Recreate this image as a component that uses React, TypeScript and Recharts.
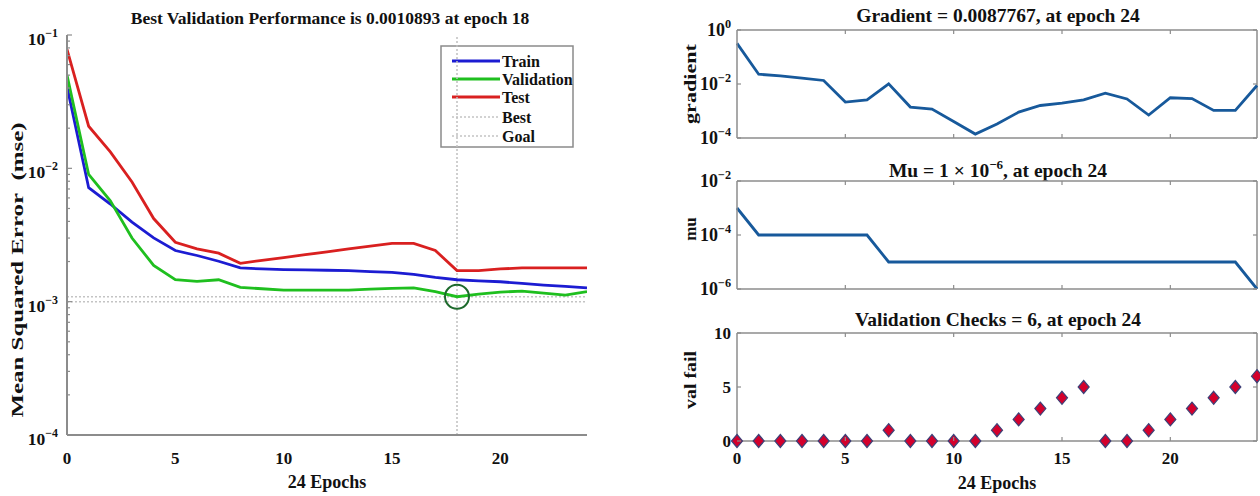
import React from 'react';
import {
  LineChart,
  Line,
  XAxis,
  YAxis,
  ReferenceLine,
  ReferenceDot,
  ComposedChart,
  Scatter,
} from 'recharts';

// ---------- data ----------
const epochs = [0, 1, 2, 3, 4, 5, 6, 7, 8, 9, 10, 11, 12, 13, 14, 15, 16, 17, 18, 19, 20, 21, 22, 23, 24];
const trainMse = [0.041, 0.00716, 0.0054, 0.00395, 0.00301, 0.00242, 0.00222, 0.00201, 0.00179, 0.00176, 0.00174, 0.00173, 0.00172, 0.00171, 0.00168, 0.00166, 0.0016, 0.00152, 0.00146, 0.00143, 0.00141, 0.00137, 0.00133, 0.0013, 0.00127];
const validationMse = [0.05, 0.009, 0.0057, 0.003, 0.00187, 0.00146, 0.00142, 0.00146, 0.00128, 0.00125, 0.00122, 0.00122, 0.00122, 0.00122, 0.00124, 0.00126, 0.00127, 0.00119, 0.0010893, 0.00114, 0.00118, 0.0012, 0.00116, 0.00112, 0.00119];
const testMse = [0.078, 0.0207, 0.0133, 0.0079, 0.0042, 0.00279, 0.00249, 0.00231, 0.00194, 0.00204, 0.00214, 0.00225, 0.00236, 0.00249, 0.00261, 0.00274, 0.00274, 0.00242, 0.00171, 0.00171, 0.00176, 0.00179, 0.00179, 0.00179, 0.00179];
const gradientValues = [0.32, 0.023, 0.02, 0.0164, 0.0135, 0.00214, 0.0026, 0.0101, 0.0014, 0.00118, 0.00041, 0.00014, 0.00033, 0.00091, 0.0016, 0.00195, 0.0026, 0.0046, 0.0028, 0.00071, 0.0031, 0.0029, 0.00105, 0.00105, 0.0087767];
const muValues = [1e-3, 1e-4, 1e-4, 1e-4, 1e-4, 1e-4, 1e-4, 1e-5, 1e-5, 1e-5, 1e-5, 1e-5, 1e-5, 1e-5, 1e-5, 1e-5, 1e-5, 1e-5, 1e-5, 1e-5, 1e-5, 1e-5, 1e-5, 1e-5, 1e-6];
const valFailValues = [0, 0, 0, 0, 0, 0, 0, 1, 0, 0, 0, 0, 1, 2, 3, 4, 5, 0, 0, 1, 2, 3, 4, 5, 6];

const bestEpoch = 18;
const bestPerf = 0.0010893;
const goalPerf = 0.001;

const xTicks = [0, 5, 10, 15, 20];
const mseMajorTicks = [1e-4, 1e-3, 1e-2, 1e-1];
const mseMinorTicks = [
  2e-4, 3e-4, 4e-4, 5e-4, 6e-4, 7e-4, 8e-4, 9e-4,
  2e-3, 3e-3, 4e-3, 5e-3, 6e-3, 7e-3, 8e-3, 9e-3,
  2e-2, 3e-2, 4e-2, 5e-2, 6e-2, 7e-2, 8e-2, 9e-2,
];
const gradientTicks = [1e-4, 1e-2, 1];
const muTicks = [1e-6, 1e-4, 1e-2];
const valTicks = [0, 5, 10];

const legendItems = [
  { name: 'Train', color: '#1c1cd2', dotted: false },
  { name: 'Validation', color: '#1fbf1f', dotted: false },
  { name: 'Test', color: '#d92020', dotted: false },
  { name: 'Best', color: '#c4c4c4', dotted: true },
  { name: 'Goal', color: '#c4c4c4', dotted: true },
];

const mseRows = epochs.map((e, i) => ({ epoch: e, train: trainMse[i], validation: validationMse[i], test: testMse[i] }));
const gradRows = epochs.map((e, i) => ({ epoch: e, gradient: gradientValues[i] }));
const muRows = epochs.map((e, i) => ({ epoch: e, mu: muValues[i] }));
const valRows = epochs.map((e, i) => ({ epoch: e, val: valFailValues[i] }));

// ---------- styling ----------
const FONT = '"Liberation Serif","Times New Roman","DejaVu Serif",serif';
const AXIS = '#8c8c8c';
const RIGHT_LINE = '#17599b';

const txt = (size: number) => ({ fontFamily: FONT, fontWeight: 700 as const, fontSize: size, fill: '#111' });

function expOf(v: number) {
  const e = Math.round(Math.log10(v));
  return e < 0 ? '\u2212' + Math.abs(e) : String(e);
}
function isDecade(v: number) {
  const l = Math.log10(v);
  return Math.abs(l - Math.round(l)) < 1e-6;
}

// log tick (left orientation) with inward tick marks
function makeLogTick(gap: number, baseDy: number, plotWidth: number, rightTicks: boolean, minorLen: number, majorLen: number, size: number) {
  return (props: any) => {
    const { x, y, payload } = props;
    const v = payload.value;
    const major = isDecade(v);
    const len = major ? majorLen : minorLen;
    return (
      <g>
        <line x1={x} x2={x + len} y1={y} y2={y} stroke={AXIS} strokeWidth={1.2} />
        {rightTicks && <line x1={x + plotWidth} x2={x + plotWidth - len} y1={y} y2={y} stroke={AXIS} strokeWidth={1.2} />}
        {major && (
          <text x={x - gap} y={y + baseDy} textAnchor="end" style={txt(size)}>
            <tspan>10</tspan>
            <tspan dy={-8} fontSize={size * 0.68}>{expOf(v)}</tspan>
          </text>
        )}
      </g>
    );
  };
}

function makeLinTick(gap: number, plotWidth: number) {
  return (props: any) => {
    const { x, y, payload } = props;
    return (
      <g>
        <line x1={x} x2={x + 4} y1={y} y2={y} stroke={AXIS} strokeWidth={1.2} />
        <line x1={x + plotWidth} x2={x + plotWidth - 4} y1={y} y2={y} stroke={AXIS} strokeWidth={1.2} />
        <text x={x - gap} y={y + 6} textAnchor="end" style={txt(17)}>{payload.value}</text>
      </g>
    );
  };
}

function makeXTick(labelDy: number | null, plotHeight: number, inward: boolean) {
  return (props: any) => {
    const { x, y, payload } = props;
    const v = payload.value;
    const edge = v === 0 || v === 24;
    return (
      <g>
        {inward && !edge && <line x1={x} x2={x} y1={y} y2={y - 4} stroke={AXIS} strokeWidth={1.2} />}
        {inward && !edge && <line x1={x} x2={x} y1={y - plotHeight} y2={y - plotHeight + 4} stroke={AXIS} strokeWidth={1.2} />}
        {labelDy !== null && (
          <text x={x} y={y + labelDy} textAnchor="middle" style={txt(17)}>{v}</text>
        )}
      </g>
    );
  };
}

const Diamond = (props: any) => {
  const { cx, cy } = props;
  if (cx == null || cy == null) return null;
  return (
    <path
      d={`M ${cx} ${cy - 6.5} L ${cx + 5.5} ${cy} L ${cx} ${cy + 6.5} L ${cx - 5.5} ${cy} Z`}
      fill="#d4002c"
      stroke="#3d4178"
      strokeWidth={1.2}
    />
  );
};

// ---------- left performance chart ----------
function PerformanceChart() {
  const W = 620;
  const H = 496;
  return (
    <LineChart width={W} height={H} data={mseRows} margin={{ top: 35, right: 33, left: 0, bottom: 0 }}>
      <XAxis
        type="number"
        dataKey="epoch"
        domain={[0, 24]}
        ticks={xTicks}
        interval={0}
        allowDataOverflow
        height={61}
        tickLine={false}
        tickSize={0}
        tickMargin={0}
        axisLine={{ stroke: AXIS, strokeWidth: 2 }}
        tick={makeXTick(29, 400, false)}
      />
      <YAxis
        type="number"
        scale="log"
        domain={[1e-4, 1e-1]}
        ticks={[...mseMajorTicks, ...mseMinorTicks]}
        interval={0}
        allowDataOverflow
        width={67}
        tickLine={false}
        tickSize={0}
        tickMargin={0}
        axisLine={{ stroke: AXIS, strokeWidth: 2 }}
        tick={makeLogTick(9, 10, 520, false, 3, 5, 17.5)}
      />
      <ReferenceLine x={bestEpoch} stroke="#c0c0c0" strokeDasharray="2 2" strokeWidth={1.5} />
      <ReferenceLine y={bestPerf} stroke="#c4c4c4" strokeDasharray="2 2" strokeWidth={1.5} />
      <ReferenceLine y={goalPerf} stroke="#c4c4c4" strokeDasharray="2 2" strokeWidth={1.5} />
      <Line dataKey="train" stroke="#1c1cd2" strokeWidth={2.8} dot={false} isAnimationActive={false} />
      <Line dataKey="validation" stroke="#1fbf1f" strokeWidth={2.8} dot={false} isAnimationActive={false} />
      <Line dataKey="test" stroke="#d92020" strokeWidth={2.8} dot={false} isAnimationActive={false} />
      <ReferenceDot x={bestEpoch} y={bestPerf} r={12} fill="none" stroke="#1d6a2c" strokeWidth={2} />
      <text x={330} y={24} textAnchor="middle" style={txt(17.5)}>
        Best Validation Performance is 0.0010893 at epoch 18
      </text>
      <text x={327} y={488} textAnchor="middle" style={txt(18)}>24 Epochs</text>
      <text
        x={17}
        y={270}
        transform="rotate(-90 17 270)"
        textAnchor="middle"
        dominantBaseline="central"
        textLength={295}
        lengthAdjust="spacingAndGlyphs"
        style={txt(17)}
      >
        {'Mean Squared Error\u00a0\u00a0(mse)'}
      </text>
      <g>
        <rect x={441} y={46} width={132} height={101} fill="#fff" stroke="#8a8a8a" strokeWidth={1.5} />
        {legendItems.map((it, i) => {
          const ys = [61, 79, 97, 117, 136];
          const yy = ys[i];
          return (
            <g key={it.name}>
              <line
                x1={452}
                x2={500}
                y1={yy}
                y2={yy}
                stroke={it.color}
                strokeWidth={it.dotted ? 1.5 : 2.8}
                strokeDasharray={it.dotted ? '2 2' : undefined}
              />
              <text x={502} y={yy + 5.5} style={txt(16)}>{it.name}</text>
            </g>
          );
        })}
      </g>
    </LineChart>
  );
}

// ---------- right charts ----------
function GradientChart() {
  return (
    <LineChart width={620} height={150} data={gradRows} margin={{ top: 30, right: 3, left: 0, bottom: 0 }}>
      <XAxis
        type="number"
        dataKey="epoch"
        domain={[0, 24]}
        ticks={xTicks}
        interval={0}
        height={12}
        tickLine={false}
        tickSize={0}
        tickMargin={0}
        axisLine={{ stroke: AXIS, strokeWidth: 1.5 }}
        tick={makeXTick(null, 108, true)}
      />
      <YAxis
        type="number"
        scale="log"
        domain={[1e-4, 1]}
        ticks={gradientTicks}
        interval={0}
        allowDataOverflow
        width={97}
        tickLine={false}
        tickSize={0}
        tickMargin={0}
        axisLine={{ stroke: AXIS, strokeWidth: 1.5 }}
        tick={makeLogTick(6, 6, 520, true, 4, 4, 18)}
      />
      <ReferenceLine y={1} stroke={AXIS} strokeWidth={1.5} />
      <ReferenceLine x={24} stroke={AXIS} strokeWidth={1.5} />
      <Line dataKey="gradient" stroke={RIGHT_LINE} strokeWidth={2.8} dot={false} isAnimationActive={false} />
      <text x={358} y={22} textAnchor="middle" style={txt(19.5)}>Gradient = 0.0087767, at epoch 24</text>
      <text
        x={50}
        y={84}
        transform="rotate(-90 50 84)"
        textAnchor="middle"
        dominantBaseline="central"
        textLength={80}
        lengthAdjust="spacingAndGlyphs"
        style={txt(17)}
      >
        gradient
      </text>
    </LineChart>
  );
}

function MuChart() {
  return (
    <LineChart width={620} height={150} data={muRows} margin={{ top: 31, right: 3, left: 0, bottom: 0 }}>
      <XAxis
        type="number"
        dataKey="epoch"
        domain={[0, 24]}
        ticks={xTicks}
        interval={0}
        height={11}
        tickLine={false}
        tickSize={0}
        tickMargin={0}
        axisLine={{ stroke: AXIS, strokeWidth: 1.5 }}
        tick={makeXTick(null, 108, true)}
      />
      <YAxis
        type="number"
        scale="log"
        domain={[1e-6, 1e-2]}
        ticks={muTicks}
        interval={0}
        allowDataOverflow
        width={97}
        tickLine={false}
        tickSize={0}
        tickMargin={0}
        axisLine={{ stroke: AXIS, strokeWidth: 1.5 }}
        tick={makeLogTick(6, 6, 520, true, 4, 4, 18)}
      />
      <ReferenceLine y={1e-2} stroke={AXIS} strokeWidth={1.5} />
      <ReferenceLine x={24} stroke={AXIS} strokeWidth={1.5} />
      <Line dataKey="mu" stroke={RIGHT_LINE} strokeWidth={2.8} dot={false} isAnimationActive={false} />
      <text x={358} y={27} textAnchor="middle" style={txt(19.5)}>
        <tspan>Mu = 1 × 10</tspan>
        <tspan dy={-8} fontSize={13}>−6</tspan>
        <tspan dy={8}>, at epoch 24</tspan>
      </text>
      <text
        x={50}
        y={79}
        transform="rotate(-90 50 79)"
        textAnchor="middle"
        dominantBaseline="central"
        style={txt(17)}
      >
        mu
      </text>
    </LineChart>
  );
}

function ValChart() {
  return (
    <ComposedChart width={620} height={196} data={valRows} margin={{ top: 33, right: 3, left: 0, bottom: 0 }}>
      <XAxis
        type="number"
        dataKey="epoch"
        domain={[0, 24]}
        ticks={xTicks}
        interval={0}
        height={55}
        tickLine={false}
        tickSize={0}
        tickMargin={0}
        axisLine={{ stroke: AXIS, strokeWidth: 1.5 }}
        tick={makeXTick(23, 108, true)}
      />
      <YAxis
        type="number"
        domain={[0, 10]}
        ticks={valTicks}
        interval={0}
        width={97}
        tickLine={false}
        tickSize={0}
        tickMargin={0}
        axisLine={{ stroke: AXIS, strokeWidth: 1.5 }}
        tick={makeLinTick(6, 520)}
      />
      <ReferenceLine y={10} stroke={AXIS} strokeWidth={1.5} />
      <ReferenceLine x={24} stroke={AXIS} strokeWidth={1.5} />
      <Scatter dataKey="val" shape={Diamond} isAnimationActive={false} />
      <text x={358} y={26} textAnchor="middle" style={txt(19.5)}>Validation Checks = 6, at epoch 24</text>
      <text x={357} y={189} textAnchor="middle" style={txt(18)}>24 Epochs</text>
      <text
        x={50}
        y={80}
        transform="rotate(-90 50 80)"
        textAnchor="middle"
        dominantBaseline="central"
        textLength={58}
        lengthAdjust="spacingAndGlyphs"
        style={txt(17)}
      >
        val fail
      </text>
    </ComposedChart>
  );
}

export default function App() {
  return (
    <div style={{ position: 'absolute', left: 0, top: 0, width: 1260, height: 496, background: '#fff', overflow: 'hidden' }}>
      <div style={{ position: 'absolute', left: 0, top: 0 }}>
        <PerformanceChart />
      </div>
      <div style={{ position: 'absolute', left: 640, top: 0 }}>
        <GradientChart />
      </div>
      <div style={{ position: 'absolute', left: 640, top: 150 }}>
        <MuChart />
      </div>
      <div style={{ position: 'absolute', left: 640, top: 300 }}>
        <ValChart />
      </div>
    </div>
  );
}
